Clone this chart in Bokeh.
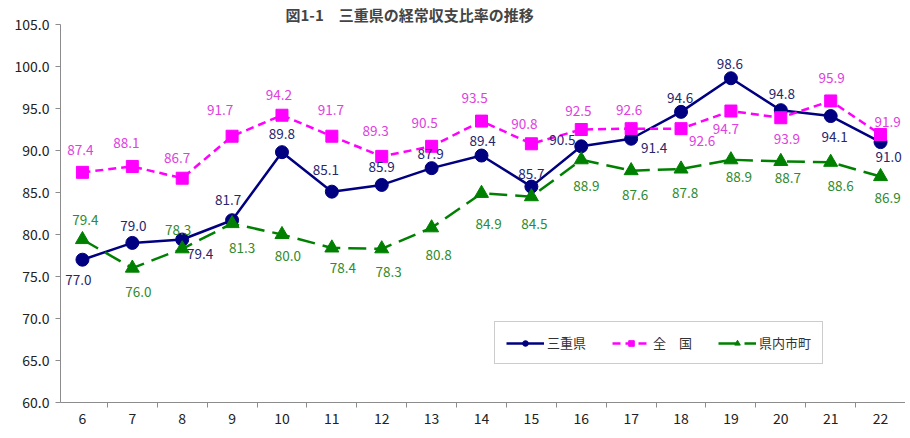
from bokeh.plotting import figure
from bokeh.models import FixedTicker, PrintfTickFormatter, Legend, LegendItem, ColumnDataSource, Range1d
from bokeh.core.properties import value
from bokeh.embed import file_html
from bokeh.resources import INLINE

# ---- data ----
years = [6, 7, 8, 9, 10, 11, 12, 13, 14, 15, 16, 17, 18, 19, 20, 21, 22]
year_labels = ["6", "7", "8", "9", "10", "11", "12", "13", "14", "15", "16", "17", "18", "19", "20", "21", "22"]
mie = [77.0, 79.0, 79.4, 81.7, 89.8, 85.1, 85.9, 87.9, 89.4, 85.7, 90.5, 91.4, 94.6, 98.6, 94.8, 94.1, 91.0]
zenkoku = [87.4, 88.1, 86.7, 91.7, 94.2, 91.7, 89.3, 90.5, 93.5, 90.8, 92.5, 92.6, 92.6, 94.7, 93.9, 95.9, 91.9]
shicho = [79.4, 76.0, 78.3, 81.3, 80.0, 78.4, 78.3, 80.8, 84.9, 84.5, 88.9, 87.6, 87.8, 88.9, 88.7, 88.6, 86.9]
series_names = ["三重県", "全　国", "県内市町"]
y_ticks = [60, 65, 70, 75, 80, 85, 90, 95, 100, 105]
title_text = "図1-1　三重県の経常収支比率の推移"

# ---- label placement (screen px offsets from each point) ----
mie_dx = [-4, 1, 18, -4, 0, -6, 0, -1, 1, 0, -19, 23, -1, -1, 1, 4, 8]
mie_dy = [20, -17, 14, -20, -18, -22, -18, -14, -15, -13, -6, 9, -14, -14, -16, 21, 15]
zen_dx = [-2, -6, -5, -12, -3, -1, -6, -7, -7, -7, -3, -2, 21, -5, 6, 1, 7]
zen_dy = [-22, -23, -20, -26, -20, -26, -25, -23, -23, -20, -19, -19, 12, 18, 21, -23, -13]
shi_dx = [3, 6, -4, 10, 6, 11, 7, 7, 7, 3, 5, 4, 4, 8, 7, 10, 7]
shi_dy = [-20, 24, -19, 24, 21, 20, 23, 27, 31, 27, 26, 24, 24, 17, 17, 24, 21]

FONT = "Noto Sans CJK JP"
NAVY, PINK, GREEN = "#000080", "#ff00ff", "#008000"
NAVY_T, PINK_T, GREEN_T = "#26266e", "#e040e0", "#2e8b2e"

p = figure(width=905, height=430, output_backend="svg", toolbar_location=None,
           x_range=Range1d(5.56, 22.5), y_range=Range1d(60, 105),
           min_border_left=60, min_border_right=0, min_border_top=24, min_border_bottom=28)
p.background_fill_color = "white"
p.border_fill_color = "white"
p.outline_line_color = None
p.xgrid.visible = False
p.ygrid.visible = False

p.title.text = title_text
p.title.text_font = FONT
p.title.text_font_size = "15px"
p.title.text_font_style = "bold"
p.title.align = "left"
p.title.offset = 225
p.title.standoff = 0

# axes
p.yaxis.ticker = FixedTicker(ticks=y_ticks)
p.yaxis.formatter = PrintfTickFormatter(format="%.1f")
p.yaxis.major_tick_out = 5
p.yaxis.major_tick_in = 0
p.xaxis.ticker = FixedTicker(ticks=years, minor_ticks=[y + 0.5 for y in years])
p.xaxis.major_label_overrides = {y: l for y, l in zip(years, year_labels)}
p.xaxis.major_tick_out = 0
p.xaxis.major_tick_in = 0
p.xaxis.minor_tick_out = 5
p.xaxis.minor_tick_in = 0
p.xaxis.major_label_standoff = 5
for ax in (p.xaxis, p.yaxis):
    ax.axis_line_color = "#8c8c8c"
    ax.major_tick_line_color = "#8c8c8c"
    ax.major_label_text_font = FONT
    ax.major_label_text_font_size = "14px"
    ax.major_label_text_color = "#222222"
p.xaxis.minor_tick_line_color = "#8c8c8c"
p.yaxis.minor_tick_line_color = None
p.yaxis.major_label_standoff = 6

src = ColumnDataSource(dict(x=years, mie=mie, zen=zenkoku, shi=shicho,
                            mie_t=["%.1f" % v for v in mie],
                            zen_t=["%.1f" % v for v in zenkoku],
                            shi_t=["%.1f" % v for v in shicho],
                            mie_dx=mie_dx, mie_dy=mie_dy, zen_dx=zen_dx, zen_dy=zen_dy,
                            shi_dx=shi_dx, shi_dy=shi_dy))

l1 = p.line("x", "mie", source=src, line_color=NAVY, line_width=2.5)
m1 = p.scatter("x", "mie", source=src, marker="circle", size=13, fill_color=NAVY, line_color=NAVY)
l2 = p.line("x", "zen", source=src, line_color=PINK, line_width=2.5, line_dash="8 5")
m2 = p.scatter("x", "zen", source=src, marker="square", size=12, fill_color=PINK, line_color=PINK)
l3 = p.line("x", "shi", source=src, line_color=GREEN, line_width=2.5, line_dash="18 8")
m3 = p.scatter("x", "shi", source=src, marker="triangle", size=14, fill_color=GREEN, line_color=GREEN)

for col, ycol, dx, dy, c in (("mie_t", "mie", "mie_dx", "mie_dy", NAVY_T),
                             ("zen_t", "zen", "zen_dx", "zen_dy", PINK_T),
                             ("shi_t", "shi", "shi_dx", "shi_dy", GREEN_T)):
    p.text("x", ycol, text=col, source=src, x_offset=dx, y_offset=dy,
           text_align="center", text_baseline="middle", text_color=c,
           text_font=value(FONT), text_font_size="13.5px")

legend = Legend(items=[LegendItem(label=series_names[0], renderers=[l1, m1]),
                       LegendItem(label=series_names[1], renderers=[l2, m2]),
                       LegendItem(label=series_names[2], renderers=[l3, m3])],
                orientation="horizontal", location=(434, 38), margin=0,
                padding=11, spacing=26, glyph_width=38, glyph_height=14,
                label_standoff=3, label_text_font=FONT, label_text_font_size="13px",
                label_text_color="#333333", border_line_color="#999999",
                border_line_width=1, background_fill_alpha=1.0)
p.add_layout(legend, "center")

open("out.html", "w").write(file_html(p, INLINE))
